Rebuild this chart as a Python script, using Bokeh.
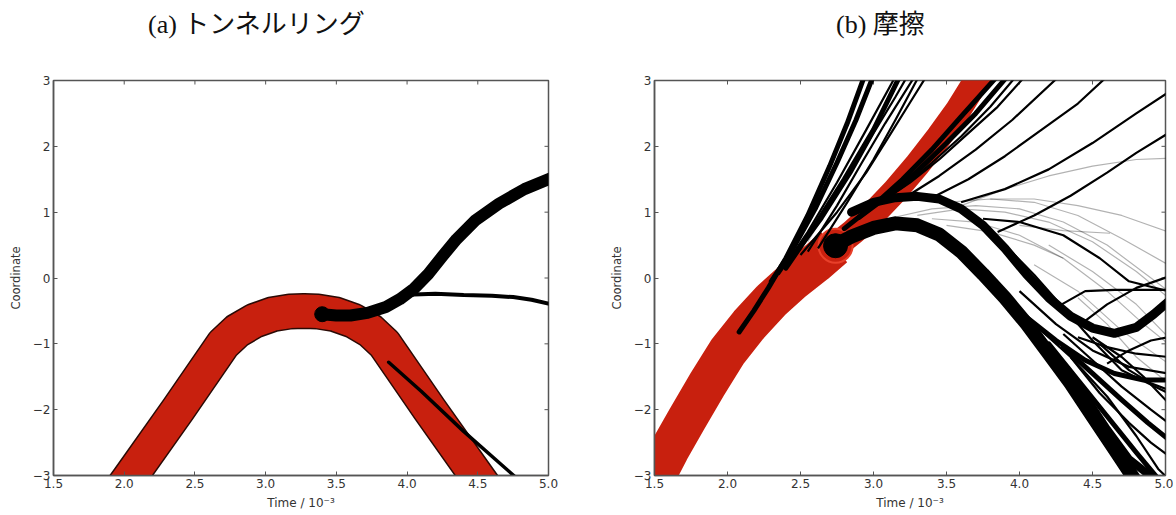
import math
from bokeh.plotting import figure
from bokeh.layouts import row, column
from bokeh.models import (LinearAxis, FixedTicker, Range1d, CustomJSTickFormatter,
                          PrintfTickFormatter, Div)
from bokeh.embed import file_html
from bokeh.resources import INLINE

# ---------------- shared texts / ticks ----------------
X_TICKS = [1.5, 2.0, 2.5, 3.0, 3.5, 4.0, 4.5, 5.0]
Y_TICKS = [-3, -2, -1, 0, 1, 2, 3]
X_MIN, X_MAX = 1.5, 5.0
Y_MIN, Y_MAX = -3, 3
TITLES = ["(a) トンネルリング", "(b) 摩擦"]
X_LABEL = "Time / 10⁻³"
Y_LABEL = "Coordinate"

# ---------------- panel (a): tunnelling ----------------
a_ring_x = [1.95, 2.05, 2.38, 2.70, 2.80, 2.92, 3.05, 3.17, 3.27, 3.37, 3.49, 3.62, 3.74, 3.84, 4.16, 4.49, 4.59]
a_ring_y = [-3.3, -3.0, -2.0, -1.0, -0.8, -0.65, -0.55, -0.51, -0.5, -0.51, -0.55, -0.65, -0.8, -1.0, -2.0, -3.0, -3.3]

a_thick_x = [3.40, 3.50, 3.60, 3.72, 3.85, 3.95, 4.05, 4.15, 4.25, 4.35, 4.48, 4.65, 4.83, 5.02]
a_thick_y = [-0.55, -0.57, -0.57, -0.53, -0.44, -0.32, -0.16, 0.06, 0.33, 0.59, 0.87, 1.13, 1.35, 1.52]

a_branch_x = [3.90, 3.97, 4.05, 4.20, 4.40, 4.60, 4.75, 4.88, 5.02]
a_branch_y = [-0.36, -0.28, -0.25, -0.24, -0.26, -0.27, -0.29, -0.33, -0.40]

a_inner_x = [3.87, 4.10, 4.40, 4.78]
a_inner_y = [-1.28, -1.72, -2.33, -3.05]

# ---------------- panel (b): friction ----------------
b_ring_low_x = [1.40, 1.50, 1.60, 1.72, 1.86, 2.00, 2.15, 2.30, 2.45, 2.60, 2.73]
b_ring_low_y = [-3.45, -3.05, -2.62, -2.15, -1.62, -1.12, -0.70, -0.34, -0.04, 0.22, 0.47]
b_ring_up_x = [2.73, 2.86, 3.00, 3.15, 3.30, 3.45, 3.58, 3.70, 3.76]
b_ring_up_y = [0.47, 0.70, 0.98, 1.33, 1.72, 2.15, 2.55, 2.98, 3.20]
b_blob_x = [2.74]
b_blob_y = [0.49]

b_thick_xs = [
    [2.72, 2.85, 3.00, 3.15, 3.30, 3.45, 3.60, 3.75, 3.90, 4.05, 4.20, 4.35, 4.50, 4.65, 4.80],
    [2.85, 3.00, 3.15, 3.30, 3.45, 3.60, 3.75, 3.90, 4.05, 4.20, 4.35, 4.50, 4.65, 4.80, 4.92, 5.05],
    [3.50, 3.70, 3.85, 4.00, 4.15, 4.30, 4.45, 4.60, 4.75, 4.95],
]
b_thick_ys = [
    [0.48, 0.63, 0.76, 0.83, 0.80, 0.66, 0.40, 0.06, -0.30, -0.70, -1.15, -1.60, -2.10, -2.60, -3.10],
    [1.00, 1.15, 1.22, 1.24, 1.20, 1.05, 0.80, 0.45, 0.05, -0.30, -0.58, -0.76, -0.84, -0.75, -0.55, -0.30],
    [0.55, 0.20, -0.15, -0.55, -0.95, -1.35, -1.80, -2.30, -2.75, -3.10],
]

b_mid_xs = [
    [2.08, 2.18, 2.28, 2.40, 2.55, 2.70, 2.82, 2.93],
    [2.30, 2.45, 2.60, 2.75, 2.88, 2.99],
    [2.80, 3.00, 3.20, 3.40, 3.60, 3.83],
    [2.90, 3.10, 3.30, 3.50, 3.70, 3.90],
    [4.20, 4.40, 4.60, 4.80, 4.95],
    [2.40, 2.60, 2.80, 3.00, 3.17],
    [4.05, 4.25, 4.45, 4.65, 4.85, 5.02],
    [4.30, 4.50, 4.70, 4.88, 5.02],
]
b_mid_ys = [
    [-0.82, -0.50, -0.15, 0.30, 0.95, 1.70, 2.35, 3.02],
    [-0.05, 0.45, 1.05, 1.75, 2.40, 3.02],
    [0.75, 1.10, 1.50, 1.95, 2.45, 3.02],
    [0.92, 1.25, 1.62, 2.05, 2.50, 3.02],
    [-1.00, -1.55, -2.10, -2.65, -3.05],
    [0.15, 0.80, 1.50, 2.25, 3.02],
    [-0.60, -0.95, -1.25, -1.45, -1.55, -1.55],
    [-1.05, -1.45, -1.85, -2.20, -2.45],
]

b_thin_xs = [
    [2.45, 2.65, 2.85, 3.00, 3.15, 3.22],
    [2.50, 2.75, 2.95, 3.12, 3.26, 3.35],
    [2.35, 2.55, 2.75, 2.95, 3.14],
    [3.05, 3.25, 3.45, 3.65, 3.85, 4.02],
    [3.00, 3.20, 3.40, 3.60, 3.80, 3.96],
    [3.20, 3.45, 3.70, 3.95, 4.25],
    [3.40, 3.65, 3.90, 4.15, 4.40, 4.58],
    [3.60, 3.90, 4.20, 4.50, 4.80, 5.02],
    [3.85, 4.10, 4.35, 4.60, 4.80, 5.02],
    [3.75, 4.00, 4.30, 4.55, 4.75, 5.02],
    [4.25, 4.45, 4.65, 4.85, 5.02],
    [4.45, 4.60, 4.80, 5.02],
    [3.90, 4.10, 4.30, 4.50, 4.70, 5.02],
    [4.00, 4.25, 4.50, 4.75, 5.02],
    [4.30, 4.50, 4.70, 4.90, 5.02],
    [4.40, 4.60, 4.80, 5.02],
    [4.50, 4.70, 4.85, 5.02],
    [4.10, 4.35, 4.60, 4.80, 4.95, 5.02],
    [4.55, 4.75, 4.90, 5.02],
    [2.55, 2.75, 2.92, 3.08, 3.27],
    [2.62, 2.82, 3.00, 3.15, 3.30],
    [4.60, 4.75, 4.90, 5.02],
    [4.35, 4.55, 4.75, 4.90, 5.02],
]
b_thin_ys = [
    [0.30, 0.90, 1.60, 2.20, 2.75, 3.02],
    [0.35, 1.00, 1.60, 2.20, 2.70, 3.02],
    [0.05, 0.70, 1.45, 2.25, 3.02],
    [1.15, 1.45, 1.80, 2.20, 2.60, 3.02],
    [1.08, 1.38, 1.75, 2.15, 2.60, 3.02],
    [1.20, 1.55, 1.95, 2.40, 3.02],
    [1.22, 1.50, 1.85, 2.25, 2.65, 3.02],
    [1.15, 1.35, 1.65, 2.05, 2.50, 2.82],
    [0.70, 0.95, 1.25, 1.60, 1.90, 2.20],
    [0.90, 0.85, 0.65, 0.30, -0.05, -0.20],
    [-0.45, -0.20, -0.18, -0.18, -0.18],
    [-0.65, -0.40, -0.15, 0.02],
    [0.50, 0.05, -0.45, -0.95, -1.40, -1.75],
    [-0.20, -0.70, -1.10, -1.35, -1.45],
    [-0.85, -1.25, -1.65, -2.00, -2.20],
    [-0.90, -1.05, -1.15, -1.20],
    [-0.90, -1.20, -1.50, -1.90],
    [-0.70, -1.20, -1.80, -2.40, -2.90, -3.05],
    [-1.00, -1.40, -1.60, -1.70],
    [0.40, 1.10, 1.75, 2.35, 3.02],
    [0.45, 1.15, 1.80, 2.40, 3.02],
    [-1.30, -1.10, -0.95, -0.90],
    [-1.20, -1.75, -2.20, -2.50, -2.70],
]

b_faint_xs = [
    [3.60, 3.90, 4.20, 4.50, 4.80, 5.02],
    [3.50, 3.80, 4.10, 4.40, 4.70, 5.02],
    [3.30, 3.60, 3.90, 4.20, 4.50, 4.80, 5.02],
    [3.40, 3.70, 4.00, 4.30, 4.60, 4.85, 5.02],
    [3.80, 4.10, 4.40, 4.70, 5.02],
    [3.50, 3.80, 4.10, 4.30],
    [4.00, 4.30, 4.62],
    [3.10, 3.40, 3.70, 4.00, 4.30, 4.60, 5.02],
    [4.20, 4.50, 4.80, 5.02],
    [2.55, 2.70, 2.85, 3.00, 3.16],
    [4.40, 4.60, 4.80, 5.02],
    [4.10, 4.40, 4.70, 5.02],
]
b_faint_ys = [
    [1.10, 1.35, 1.55, 1.70, 1.80, 1.82],
    [1.15, 1.20, 1.15, 0.95, 0.60, 0.20],
    [0.95, 1.05, 1.00, 0.85, 0.55, 0.10, -0.30],
    [0.90, 0.85, 0.65, 0.30, -0.20, -0.70, -1.00],
    [1.20, 1.20, 1.10, 0.95, 0.70],
    [0.80, 0.70, 0.50, 0.30],
    [0.80, 0.72, 0.68],
    [0.90, 1.05, 1.10, 1.05, 0.85, 0.50, -0.20],
    [0.50, 0.10, -0.40, -0.90],
    [0.55, 1.10, 1.70, 2.30, 3.02],
    [-0.30, -0.70, -1.20, -1.60],
    [0.20, -0.20, -0.80, -1.30],
]

RED = "#c8200e"
AXIS_GREY = "#555555"
LABEL_FONT = "DejaVu Sans"
TITLE_FONT_CSS = "'Liberation Serif', 'Noto Sans CJK JP', serif"
MINUS_CODE = "return tick < 0 ? '\u2212' + String(-tick) : String(tick);"
CAPTION_H = 40


def make_caption(title, width, pad_left):
    html = ('<div style="padding-left:%dpx; padding-top:10px; font-family:%s; '
            'font-size:26px; line-height:30px; color:#111111; white-space:nowrap;">%s</div>'
            % (pad_left, TITLE_FONT_CSS, title))
    return Div(text=html, width=width, height=CAPTION_H, margin=(0, 0, 0, 0))


def make_figure(width, border_left, border_right):
    p = figure(width=width, height=515 - CAPTION_H,
               x_range=Range1d(X_MIN, X_MAX), y_range=Range1d(Y_MIN, Y_MAX),
               x_axis_type=None, y_axis_type=None,
               output_backend="svg", toolbar_location=None, tools="",
               min_border_left=border_left, min_border_right=border_right,
               min_border_top=80 - CAPTION_H, min_border_bottom=40)
    p.outline_line_color = AXIS_GREY
    p.outline_line_width = 1.5
    p.background_fill_color = "white"
    p.border_fill_color = "white"

    xb = LinearAxis(ticker=FixedTicker(ticks=X_TICKS),
                    formatter=PrintfTickFormatter(format="%.1f"),
                    axis_label=X_LABEL)
    yl = LinearAxis(ticker=FixedTicker(ticks=Y_TICKS),
                    formatter=CustomJSTickFormatter(code=MINUS_CODE),
                    axis_label=Y_LABEL)
    for ax in (xb, yl):
        ax.axis_line_color = AXIS_GREY
        ax.axis_line_width = 1.5
        ax.major_tick_line_color = AXIS_GREY
        ax.major_tick_line_width = 1
        ax.major_tick_in = 4
        ax.major_tick_out = 0
        ax.minor_tick_line_color = None
        ax.major_label_text_font = LABEL_FONT
        ax.major_label_text_font_size = "12px"
        ax.major_label_text_color = "#333333"
        ax.axis_label_text_font = LABEL_FONT
        ax.axis_label_text_font_style = "normal"
        ax.axis_label_text_color = "#333333"
    xb.major_label_standoff = 3
    xb.axis_label_standoff = 5
    xb.axis_label_text_font_size = "12px"
    yl.major_label_standoff = 3
    yl.axis_label_standoff = 7
    yl.axis_label_text_font_size = "11.5px"
    p.add_layout(xb, "below")
    p.add_layout(yl, "left")

    # inward ticks on the top and right frame edges
    p.ray(x=X_TICKS, y=[Y_MAX] * len(X_TICKS), length=4, length_units="screen",
          angle=-math.pi / 2, line_color=AXIS_GREY, line_width=1)
    p.ray(x=[X_MAX] * len(Y_TICKS), y=Y_TICKS, length=4, length_units="screen",
          angle=math.pi, line_color=AXIS_GREY, line_width=1)
    return p


# ---------------- panel (a) ----------------
pa = make_figure(568, 53, 20)
pa.line(a_ring_x, a_ring_y, line_width=36, color="#2a0a05", line_join="round")
pa.line(a_ring_x, a_ring_y, line_width=33, color=RED, line_join="round")
pa.line(a_branch_x, a_branch_y, line_width=4, color="black", line_join="round", line_cap="round")
pa.line(a_thick_x, a_thick_y, line_width=12, color="black", line_join="round", line_cap="round")
pa.scatter(a_thick_x[:1], a_thick_y[:1], size=15, color="black")
pa.line(a_inner_x, a_inner_y, line_width=3.5, color="black", line_join="round", line_cap="round")

# ---------------- panel (b) ----------------
pb = make_figure(605, 86, 8)
pb.multi_line(b_faint_xs, b_faint_ys, line_width=1.2, color="black", line_alpha=0.3, line_join="round")
pb.line(b_ring_low_x, b_ring_low_y, line_width=40, color=RED, line_join="round")
pb.line(b_ring_up_x, b_ring_up_y, line_width=26, color=RED, line_join="round")
pb.scatter(b_blob_x, b_blob_y, size=34, fill_color=RED, line_color="#e8402a", line_width=2)
pb.multi_line(b_thin_xs, b_thin_ys, line_width=2.2, color="black", line_join="round")
pb.multi_line(b_mid_xs, b_mid_ys, line_width=5, color="black", line_join="round", line_cap="round")
pb.multi_line(b_thick_xs, b_thick_ys, line_width=[14, 9, 8], color="black", line_join="round", line_cap="round")
pb.scatter(b_blob_x, b_blob_y, size=24, color="black")

layout = row(column(make_caption(TITLES[0], 568, 148), pa, spacing=0),
             column(make_caption(TITLES[1], 605, 268), pb, spacing=0),
             spacing=0)
open("out.html", "w").write(file_html(layout, INLINE))
